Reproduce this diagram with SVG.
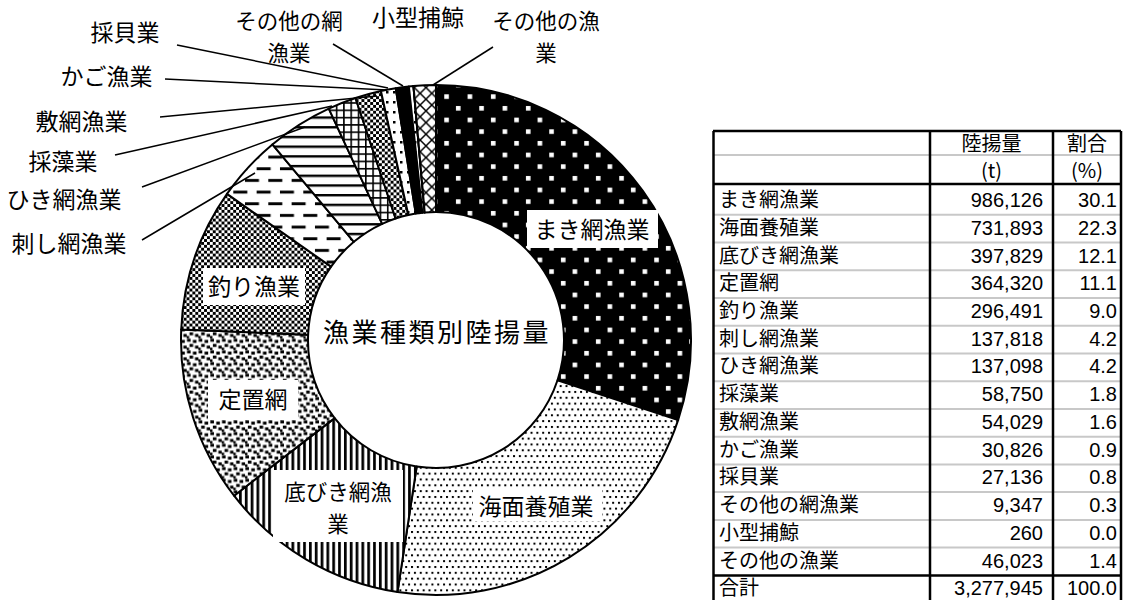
<svg xmlns="http://www.w3.org/2000/svg" width="1124" height="600" viewBox="0 0 1124 600">
<style>
.lbl{font-family:"Noto Sans CJK JP","Noto Sans CJK SC",sans-serif;font-size:23px;fill:#000;text-anchor:middle}
.two{font-size:21.5px}
.ttl{font-size:26px;letter-spacing:2.5px}
.tbl{font-family:"Noto Sans CJK JP","Noto Sans CJK SC",sans-serif;font-size:20px;fill:#000}
.num{font-family:"Liberation Sans",Arial,sans-serif;font-size:20px;fill:#000;text-anchor:end}
.mid{text-anchor:middle}
.slice{stroke:#000;stroke-width:2;stroke-linejoin:round}
.leader{stroke:#000;stroke-width:1.5;fill:none}
.bg{fill:#fff}
.gl{stroke:#c8c8c8;stroke-width:2}
.bl{stroke:#000;stroke-width:2.5}
</style>
<defs>
<pattern id="pMaki" width="23.33" height="23.33" patternUnits="userSpaceOnUse">
<rect width="23.33" height="23.33" fill="#000"/>
<rect x="1" y="1" width="4.6" height="4.6" fill="#fff"/>
<rect x="12.67" y="12.67" width="4.6" height="4.6" fill="#fff"/>
</pattern>
<pattern id="pKaimen" width="5.83" height="11.67" patternUnits="userSpaceOnUse">
<rect width="5.83" height="11.67" fill="#fff"/>
<rect x="0" y="0" width="2" height="2" fill="#000"/>
<rect x="2.92" y="5.83" width="2" height="2" fill="#000"/>
</pattern>
<pattern id="pVert" width="5.83" height="10" patternUnits="userSpaceOnUse">
<rect width="5.83" height="10" fill="#fff"/>
<rect x="0" y="0" width="2.7" height="10" fill="#000"/>
</pattern>
<pattern id="pConf" width="11.67" height="11.67" patternUnits="userSpaceOnUse">
<rect width="11.67" height="11.67" fill="#fff"/>
<rect x="0.3" y="0.3" width="3.6" height="3" fill="#000"/>
<rect x="6.2" y="1.5" width="3.6" height="3" fill="#000"/>
<rect x="2.8" y="5.5" width="3.6" height="3" fill="#000"/>
<rect x="8.3" y="7.2" width="3.37" height="3" fill="#000"/>
<rect x="0" y="9.2" width="2.4" height="2.4" fill="#000"/>
</pattern>
<pattern id="pCheck" width="5.83" height="5.83" patternUnits="userSpaceOnUse">
<rect width="5.83" height="5.83" fill="#fff"/>
<rect x="0" y="0" width="2.92" height="2.92" fill="#000"/>
<rect x="2.92" y="2.92" width="2.92" height="2.92" fill="#000"/>
</pattern>
<pattern id="pDash" width="23.33" height="23.33" patternUnits="userSpaceOnUse">
<rect width="23.33" height="23.33" fill="#fff"/>
<rect x="0" y="4" width="14" height="2.9" fill="#000"/>
<rect x="11.67" y="15.67" width="11.67" height="2.9" fill="#000"/>
<rect x="0" y="15.67" width="2.33" height="2.9" fill="#000"/>
</pattern>
<pattern id="pHoriz" width="10" height="9.7" patternUnits="userSpaceOnUse">
<rect width="10" height="9.7" fill="#fff"/>
<rect x="0" y="0" width="10" height="2.4" fill="#000"/>
</pattern>
<pattern id="pGrid" width="7.3" height="7.3" patternUnits="userSpaceOnUse">
<rect width="7.3" height="7.3" fill="#fff"/>
<rect x="0" y="0" width="7.3" height="1.6" fill="#000"/>
<rect x="0" y="0" width="1.6" height="7.3" fill="#000"/>
</pattern>
<pattern id="pSparse" width="7" height="10" patternUnits="userSpaceOnUse">
<rect width="7" height="10" fill="#fff"/>
<rect x="1" y="1" width="2.5" height="2.5" fill="#000"/>
</pattern>
<pattern id="pCross" width="11.67" height="11.67" patternUnits="userSpaceOnUse">
<rect width="11.67" height="11.67" fill="#fff"/>
<path d="M0,0L11.67,11.67M11.67,0L0,11.67" stroke="#000" stroke-width="1.5"/>
</pattern>
</defs>
<rect width="1124" height="600" fill="#fff"/>
<g id="chart">
<g id="s-makiami">
<path class="slice" fill="url(#pMaki)" d="M436,85A255,255 0 0 1 678.10,420.07L557.52,380.19A128,128 0 0 0 436,212Z"/>
<rect class="bg" x="527" y="210" width="131" height="38"/>
<text class="lbl" x="592" y="237.5">まき網漁業</text>
</g>
<g id="s-kaimen">
<path class="slice" fill="url(#pKaimen)" d="M678.10,420.07A255,255 0 0 1 397.51,592.08L416.68,466.53A128,128 0 0 0 557.52,380.19Z"/>
<rect class="bg" x="473" y="490" width="129" height="31"/>
<text class="lbl" x="536" y="514.5">海面養殖業</text>
</g>
<g id="s-sokobiki">
<path class="slice" fill="url(#pVert)" d="M397.51,592.08A255,255 0 0 1 234.03,495.69L334.62,418.15A128,128 0 0 0 416.68,466.53Z"/>
<rect class="bg" x="273" y="470" width="130" height="72"/>
<text class="lbl two" x="338" y="500">底びき網漁<tspan x="338" dy="32">業</tspan></text>
</g>
<g id="s-teichi">
<path class="slice" fill="url(#pConf)" d="M234.03,495.69A255,255 0 0 1 181.22,329.39L308.11,334.68A128,128 0 0 0 334.62,418.15Z"/>
<rect class="bg" x="208" y="380" width="90" height="40"/>
<text class="lbl" x="253" y="407.5">定置網</text>
</g>
<g id="s-tsuri">
<path class="slice" fill="url(#pCheck)" d="M181.22,329.39A255,255 0 0 1 226.98,193.93L331.08,266.68A128,128 0 0 0 308.11,334.68Z"/>
<rect class="bg" x="203" y="268" width="102" height="37"/>
<text class="lbl" x="254" y="294.5">釣り漁業</text>
</g>
<g id="s-sashiami">
<path class="slice" fill="url(#pDash)" d="M226.98,193.93A255,255 0 0 1 272.37,144.43L353.86,241.83A128,128 0 0 0 331.08,266.68Z"/>
<text class="lbl" x="69" y="251.5">刺し網漁業</text>
</g>
<g id="s-hikiami">
<path class="slice" fill="url(#pHoriz)" d="M272.37,144.43A255,255 0 0 1 328.79,108.63L382.19,223.86A128,128 0 0 0 353.86,241.83Z"/>
<text class="lbl" x="64" y="207.5">ひき網漁業</text>
</g>
<g id="s-saisou">
<path class="slice" fill="url(#pGrid)" d="M328.79,108.63A255,255 0 0 1 355.47,98.04L395.58,218.55A128,128 0 0 0 382.19,223.86Z"/>
<text class="lbl" x="63" y="170">採藻業</text>
</g>
<g id="s-shikiami">
<path class="slice" fill="url(#pCheck)" d="M355.47,98.04A255,255 0 0 1 380.91,91.01L408.35,215.02A128,128 0 0 0 395.58,218.55Z"/>
<text class="lbl" x="81.5" y="130">敷網漁業</text>
</g>
<g id="s-kago">
<path class="slice" fill="url(#pSparse)" d="M380.91,91.01A255,255 0 0 1 395.71,88.20L415.78,213.61A128,128 0 0 0 408.35,215.02Z"/>
<text class="lbl" x="106.5" y="84.5">かご漁業</text>
</g>
<g id="s-saikai">
<path class="slice" fill="#000" d="M395.71,88.20A255,255 0 0 1 408.86,86.45L422.38,212.73A128,128 0 0 0 415.78,213.61Z"/>
<text class="lbl" x="125" y="41">採貝業</text>
</g>
<g id="s-sonotaami">
<path class="slice" fill="url(#pSparse)" d="M408.86,86.45A255,255 0 0 1 413.41,86.00L424.66,212.50A128,128 0 0 0 422.38,212.73Z"/>
<text class="lbl two" x="289" y="28.5">その他の網<tspan x="289" dy="32">漁業</tspan></text>
</g>
<g id="s-kogata">
<path class="slice" fill="#fff" d="M413.41,86.00A255,255 0 0 1 413.53,85.99L424.72,212.50A128,128 0 0 0 424.66,212.50Z"/>
<text class="lbl" x="418" y="26">小型捕鯨</text>
</g>
<g id="s-sonota">
<path class="slice" fill="url(#pCross)" d="M413.53,85.99A255,255 0 0 1 436,85L436,212A128,128 0 0 0 424.72,212.50Z"/>
<text class="lbl two" x="546" y="28.5">その他の漁<tspan x="546" dy="32">業</tspan></text>
</g>
<g id="title">
<text class="lbl ttl" x="437" y="342">漁業種類別陸揚量</text>
</g>
</g>
<g id="connectors">
<line class="leader" x1="177" y1="45" x2="388" y2="88"/>
<line class="leader" x1="165" y1="79" x2="387" y2="90"/>
<line class="leader" x1="160" y1="117" x2="377" y2="96"/>
<line class="leader" x1="115" y1="155" x2="332" y2="106"/>
<line class="leader" x1="142" y1="187" x2="305" y2="127"/>
<line class="leader" x1="142" y1="240" x2="255" y2="173"/>
<line class="leader" x1="333" y1="44" x2="403" y2="86"/>
<line class="leader" x1="493" y1="47" x2="433" y2="85"/>
</g>
<g id="table">
<line class="gl" x1="713" y1="155" x2="1121" y2="155"/>
<line class="gl" x1="713" y1="214.7" x2="1121" y2="214.7"/>
<line class="gl" x1="713" y1="242.5" x2="1121" y2="242.5"/>
<line class="gl" x1="713" y1="270.2" x2="1121" y2="270.2"/>
<line class="gl" x1="713" y1="298" x2="1121" y2="298"/>
<line class="gl" x1="713" y1="325.7" x2="1121" y2="325.7"/>
<line class="gl" x1="713" y1="353.4" x2="1121" y2="353.4"/>
<line class="gl" x1="713" y1="381.2" x2="1121" y2="381.2"/>
<line class="gl" x1="713" y1="408.9" x2="1121" y2="408.9"/>
<line class="gl" x1="713" y1="436.7" x2="1121" y2="436.7"/>
<line class="gl" x1="713" y1="464.4" x2="1121" y2="464.4"/>
<line class="gl" x1="713" y1="492.1" x2="1121" y2="492.1"/>
<line class="gl" x1="713" y1="519.9" x2="1121" y2="519.9"/>
<line class="gl" x1="713" y1="547.6" x2="1121" y2="547.6"/>
<line class="bl" x1="713" y1="131" x2="1121" y2="131"/>
<line class="bl" x1="713" y1="184" x2="1121" y2="184"/>
<line class="bl" x1="713" y1="575.4" x2="1121" y2="575.4"/>
<line class="bl" x1="713.5" y1="131" x2="713.5" y2="600"/>
<line class="bl" x1="930" y1="131" x2="930" y2="600"/>
<line class="bl" x1="1053" y1="131" x2="1053" y2="600"/>
<line class="bl" x1="1121" y1="131" x2="1121" y2="600"/>
<text class="tbl mid" x="991.5" y="150.5">陸揚量</text>
<text class="tbl mid" x="1087" y="150.5">割合</text>
<text class="tbl mid" x="991.5" y="178">(t)</text>
<text class="tbl mid" x="1087" y="178">(%)</text>
<text class="tbl" x="719" y="207">まき網漁業</text>
<text class="tbl" x="719" y="234.7">海面養殖業</text>
<text class="tbl" x="719" y="262.5">底びき網漁業</text>
<text class="tbl" x="719" y="290.2">定置網</text>
<text class="tbl" x="719" y="318">釣り漁業</text>
<text class="tbl" x="719" y="345.7">刺し網漁業</text>
<text class="tbl" x="719" y="373.4">ひき網漁業</text>
<text class="tbl" x="719" y="401.2">採藻業</text>
<text class="tbl" x="719" y="428.9">敷網漁業</text>
<text class="tbl" x="719" y="456.7">かご漁業</text>
<text class="tbl" x="719" y="484.4">採貝業</text>
<text class="tbl" x="719" y="512.1">その他の網漁業</text>
<text class="tbl" x="719" y="539.9">小型捕鯨</text>
<text class="tbl" x="719" y="567.6">その他の漁業</text>
<text class="tbl" x="719" y="595.4">合計</text>
<text class="num" x="1043" y="207">986,126</text>
<text class="num" x="1043" y="234.7">731,893</text>
<text class="num" x="1043" y="262.5">397,829</text>
<text class="num" x="1043" y="290.2">364,320</text>
<text class="num" x="1043" y="318">296,491</text>
<text class="num" x="1043" y="345.7">137,818</text>
<text class="num" x="1043" y="373.4">137,098</text>
<text class="num" x="1043" y="401.2">58,750</text>
<text class="num" x="1043" y="428.9">54,029</text>
<text class="num" x="1043" y="456.7">30,826</text>
<text class="num" x="1043" y="484.4">27,136</text>
<text class="num" x="1043" y="512.1">9,347</text>
<text class="num" x="1043" y="539.9">260</text>
<text class="num" x="1043" y="567.6">46,023</text>
<text class="num" x="1043" y="595.4">3,277,945</text>
<text class="num" x="1117" y="207">30.1</text>
<text class="num" x="1117" y="234.7">22.3</text>
<text class="num" x="1117" y="262.5">12.1</text>
<text class="num" x="1117" y="290.2">11.1</text>
<text class="num" x="1117" y="318">9.0</text>
<text class="num" x="1117" y="345.7">4.2</text>
<text class="num" x="1117" y="373.4">4.2</text>
<text class="num" x="1117" y="401.2">1.8</text>
<text class="num" x="1117" y="428.9">1.6</text>
<text class="num" x="1117" y="456.7">0.9</text>
<text class="num" x="1117" y="484.4">0.8</text>
<text class="num" x="1117" y="512.1">0.3</text>
<text class="num" x="1117" y="539.9">0.0</text>
<text class="num" x="1117" y="567.6">1.4</text>
<text class="num" x="1117" y="595.4">100.0</text>
</g>
</svg>
